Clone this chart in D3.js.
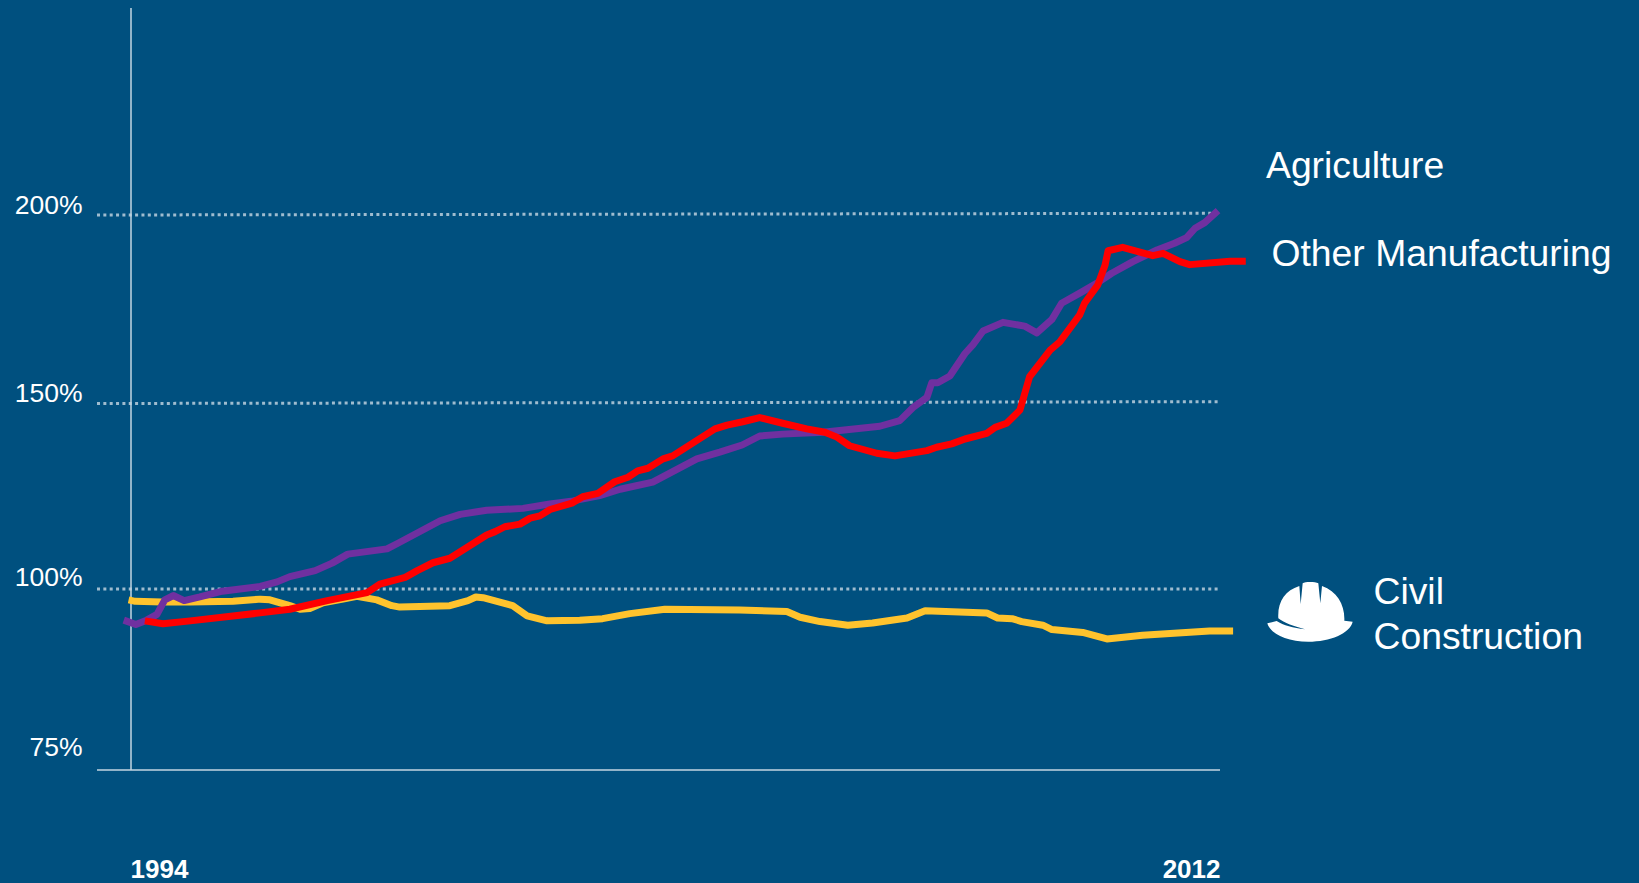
<!DOCTYPE html>
<html>
<head>
<meta charset="utf-8">
<script src="https://cdn.jsdelivr.net/npm/d3@7"></script>
<style>
	html, body { margin: 0; padding: 0; background: #00507f; overflow: hidden; }
	text { font-family: "Liberation Sans", Arial, sans-serif; fill: #fff; }
</style>
</head>
<body>
<div id="chart"></div>
<script>
// tick labels
const yTicks = [75, 100, 150, 200];
const xTicks = [1994, 2012];

// series as [year, percent]
const civilConstruction = [[1993.96,98.5],[1994.07,98.3],[1994.51,98.2],[1994.98,98.2],[1995.69,98.3],[1996.14,98.6],[1996.30,98.5],[1996.63,97.7],[1996.80,97.2],[1996.96,97.3],[1997.18,98.1],[1997.51,98.6],[1997.74,99.0],[1998.07,98.5],[1998.32,97.7],[1998.45,97.5],[1999.28,97.7],[1999.58,98.4],[1999.71,98.9],[1999.83,98.8],[2000.32,97.7],[2000.56,96.3],[2000.89,95.6],[2001.43,95.7],[2001.81,95.9],[2002.26,96.6],[2002.84,97.2],[2004.08,97.1],[2004.86,96.9],[2005.08,96.1],[2005.41,95.5],[2005.87,95.0],[2006.28,95.3],[2006.85,96.0],[2007.15,97.0],[2008.17,96.7],[2008.35,96.0],[2008.59,95.9],[2008.75,95.5],[2009.10,95.0],[2009.25,94.4],[2009.76,94.0],[2010.16,93.1],[2010.75,93.6],[2011.86,94.2],[2012.25,94.2]];

const agriculture = [[1993.88,95.7],[1994.08,95.1],[1994.26,95.7],[1994.43,96.5],[1994.56,98.5],[1994.70,99.1],[1994.88,98.4],[1995.14,98.9],[1995.51,99.7],[1996.14,100.7],[1996.42,101.9],[1996.63,103.3],[1997.05,104.9],[1997.33,106.9],[1997.59,109.3],[1998.24,110.7],[1998.42,112.2],[1999.12,118.2],[1999.45,119.9],[1999.89,121.0],[2000.49,121.5],[2000.94,122.7],[2001.32,123.5],[2001.76,124.9],[2002.10,126.6],[2002.64,128.5],[2003.37,134.7],[2003.75,136.5],[2004.12,138.4],[2004.41,140.8],[2004.79,141.3],[2005.46,141.8],[2006.40,143.4],[2006.73,144.9],[2006.95,148.4],[2007.18,151.1],[2007.26,155.0],[2007.36,155.0],[2007.56,156.8],[2007.81,162.8],[2007.94,165.1],[2008.11,168.8],[2008.44,171.1],[2008.80,170.1],[2009.00,168.3],[2009.25,171.9],[2009.41,176.2],[2009.71,178.9],[2009.99,181.5],[2010.24,184.2],[2010.59,187.3],[2010.99,190.4],[2011.28,192.2],[2011.48,193.7],[2011.62,196.2],[2011.78,197.7],[2012.00,200.9]];

const otherManufacturing = [[1994.23,95.6],[1994.53,95.2],[1994.98,95.6],[1996.14,96.7],[1996.63,97.2],[1997.25,98.4],[1997.91,99.5],[1998.12,101.3],[1998.54,103.1],[1998.74,104.9],[1999.00,107.0],[1999.28,108.2],[1999.89,114.4],[2000.03,115.3],[2000.19,116.6],[2000.44,117.3],[2000.61,118.9],[2000.77,119.5],[2000.94,121.2],[2001.30,122.9],[2001.48,124.6],[2001.73,125.5],[2002.01,128.6],[2002.23,129.8],[2002.39,131.5],[2002.56,132.2],[2002.81,134.7],[2002.97,135.5],[2003.67,142.7],[2003.87,143.7],[2004.13,144.6],[2004.41,145.7],[2004.79,144.2],[2005.19,142.7],[2005.49,141.8],[2005.69,140.5],[2005.90,138.2],[2006.35,136.2],[2006.65,135.5],[2007.18,136.9],[2007.34,137.8],[2007.59,138.7],[2007.81,140.0],[2008.17,141.5],[2008.31,143.1],[2008.50,144.2],[2008.72,147.7],[2008.88,156.6],[2009.22,163.7],[2009.38,165.9],[2009.71,173.1],[2009.79,176.2],[2010.01,181.1],[2010.13,186.4],[2010.18,190.2],[2010.42,191.1],[2010.92,188.9],[2011.09,189.5],[2011.37,187.3],[2011.53,186.5],[2012.20,187.4],[2012.46,187.4]];

const width = 1639, height = 883;

const svg = d3.select("#chart").append("svg")
	.attr("width", width)
	.attr("height", height)
	.style("display", "block");

const x = d3.scaleLinear().domain([1994, 2012]).range([131, 1218]);
// the axis is broken below 100%, so the scale has one more segment there
const y = d3.scaleLinear().domain([75, 100, 150, 200]).range([770, 589, 401.5, 214]);

const axisColor = "#c3d6e2";

// dotted gridlines, the upper two lean up a little in the original
svg.append("g").selectAll("line")
	.data(yTicks.slice(1))
	.enter()
	.append("line")
	.attr("x1", 97)
	.attr("x2", 1220)
	.attr("y1", d => y(d) + (d === 100 ? 0 : d === 150 ? 2 : 1))
	.attr("y2", d => y(d) + (d === 100 ? 0 : d === 150 ? 0.2 : -0.7))
	.attr("stroke", "#9fbccf")
	.attr("stroke-width", 3)
	.attr("stroke-dasharray", "3 3.35");

// left axis, labels sit above their lines
const yOffset = {75: -15, 100: -4, 150: 0, 200: -1};
const yAxisG = svg.append("g")
	.attr("transform", "translate(131,0)")
	.call(d3.axisLeft(y).tickValues(yTicks).tickFormat(d => d + "%").tickSize(0).tickPadding(48.5));
yAxisG.select(".domain").remove();
yAxisG.selectAll("text")
	.attr("dy", null)
	.attr("y", d => yOffset[d])
	.style("font-size", "26.5px")
	.style("font-family", null);

svg.append("line")
	.attr("x1", x(1994)).attr("x2", x(1994))
	.attr("y1", 8).attr("y2", y(75))
	.attr("stroke", axisColor).attr("stroke-width", 1.5);

// bottom axis
const xAxisG = svg.append("g")
	.attr("transform", `translate(0,${y(75)})`)
	.call(d3.axisBottom(x).tickValues(xTicks).tickFormat(d3.format("d")).tickSize(0).tickPadding(0));
xAxisG.select(".domain").remove();
xAxisG.selectAll("text")
	.attr("dy", null)
	.attr("y", 107.5)
	.attr("text-anchor", d => d === 1994 ? "start" : "end")
	.attr("dx", d => d === 1994 ? -1 : 2)
	.style("font-size", "26px")
	.style("font-weight", "bold")
	.style("font-family", null);

svg.append("line")
	.attr("x1", 97).attr("x2", 1220)
	.attr("y1", y(75)).attr("y2", y(75))
	.attr("stroke", axisColor).attr("stroke-width", 1.5);

// series lines
const line = d3.line().x(d => x(d[0])).y(d => y(d[1]));

const series = [
	{values: civilConstruction, color: "#ffc32d"},
	{values: agriculture, color: "#7030a0"},
	{values: otherManufacturing, color: "#ff0000"}
];

svg.append("g").selectAll("path")
	.data(series)
	.enter()
	.append("path")
	.attr("d", d => line(d.values))
	.attr("fill", "none")
	.attr("stroke", d => d.color)
	.attr("stroke-width", 7)
	.attr("stroke-linejoin", "round");

// series labels
const labels = [
	{text: "Agriculture", x: 1266, y: 178},
	{text: "Other Manufacturing", x: 1271.5, y: 265.5},
	{text: "Civil", x: 1373.5, y: 603.5},
	{text: "Construction", x: 1373.5, y: 648.5}
];

svg.append("g").selectAll("text")
	.data(labels)
	.enter()
	.append("text")
	.attr("x", d => d.x)
	.attr("y", d => d.y)
	.style("font-size", "37.3px")
	.text(d => d.text);

// hard hat icon, traced at 3x
svg.append("path")
	.attr("transform", "translate(1250,550) scale(0.3333)")
	.attr("fill", "#fff")
	.attr("d", "M85,205 C82,155 105,122 148,108 L152,162 L158,100 C165,95 195,95 205,100 L211,160 L216,108 C262,125 285,165 283,212 L308,215 C300,250 240,275 175,275 C110,275 60,250 52,220 L80,213 C100,226 130,234 165,238 C130,228 100,218 85,205 Z");
</script>
</body>
</html>
